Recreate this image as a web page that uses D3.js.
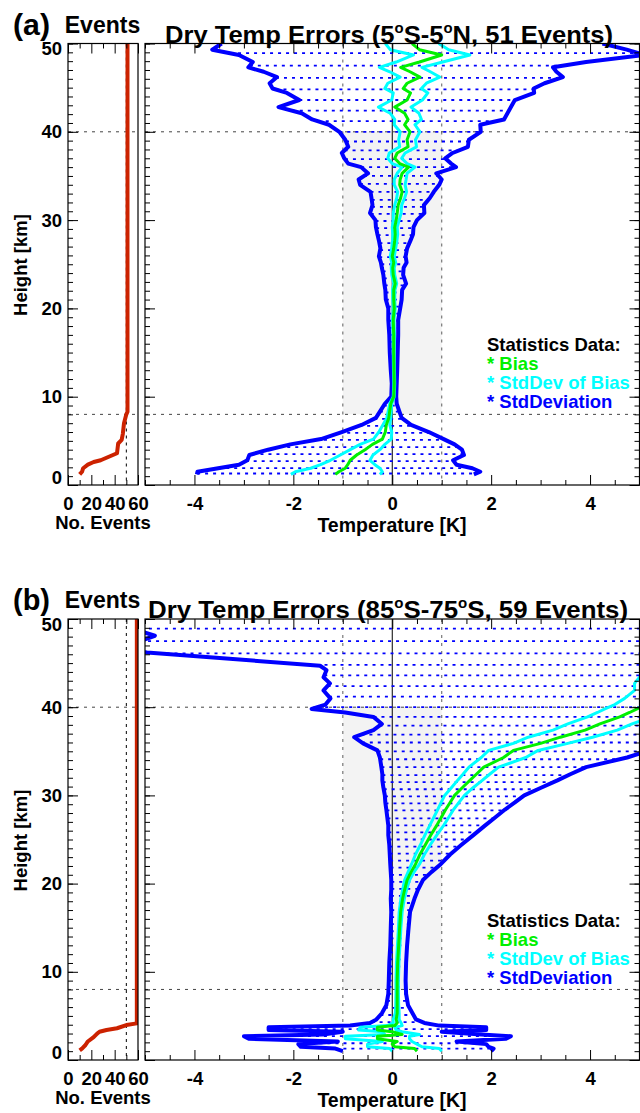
<!DOCTYPE html>
<html>
<head>
<meta charset="utf-8">
<title>Dry Temp Errors</title>
<script src="https://d3js.org/d3.v7.min.js"></script>
<style>
  body { margin: 0; background: #fff; }
  text { font-family: "Liberation Sans", Arial, Helvetica, sans-serif; font-weight: bold; }
</style>
</head>
<body>
<div id="chart"></div>
<script>
// heights [km] where the dotted std-dev fill rows are drawn
var fillRows = [48.9, 47.5, 46.1, 44.8, 43.6, 42.4, 41.2, 40.0, 38.9, 37.9, 36.9, 36.0, 35.0, 34.1,
  33.2, 32.3, 31.5, 30.7, 29.9, 29.1, 28.3, 27.4, 26.6, 25.8, 25.0, 24.2, 23.4, 22.6, 21.8, 21.0,
  20.2, 19.4, 18.6, 17.8, 17.0, 16.2, 15.4, 14.6, 13.8, 13.0, 12.2, 11.4, 10.6, 9.8, 9.0, 8.3,
  7.5, 6.7, 5.9, 5.1, 4.3, 3.5, 2.7, 1.9, 1.3];

// reference lines
var guideHeights = [40, 8];
var guideTemps = [-1, 1];
var guideEvents = 50;

// ---- (a) 5S-5N, 51 events
var aHeight = [50.0, 49.3, 48.7, 47.9, 47.3, 46.8, 46.2, 45.5, 44.9, 44.4, 43.6, 42.8, 42.1, 41.4,
  40.8, 40.0, 39.1, 38.3, 37.6, 37.0, 36.4, 36.0, 35.3, 34.6, 34.0, 33.2, 32.5, 31.7, 30.8, 30.0,
  29.2, 28.4, 27.7, 26.8, 25.9, 25.2, 24.6, 23.8, 22.8, 22.1, 21.0, 20.0, 18.7, 17.0, 15.0, 13.0,
  11.5, 10.0, 9.2, 8.4, 7.6, 6.8, 6.0, 5.2, 4.6, 4.0, 3.4, 2.8, 2.3, 1.9, 1.5, 1.2];
var aBias = [0.40, 0.55, 1.00, 0.55, 0.17, 0.36, 0.56, 0.30, 0.22, 0.37, 0.30, 0.05, 0.25, 0.32,
  0.25, 0.36, 0.30, 0.32, 0.10, 0.05, 0.15, 0.33, 0.20, 0.16, 0.15, 0.20, 0.17, 0.12, 0.10, 0.08,
  0.05, 0.06, 0.05, 0.03, 0.00, 0.03, 0.01, 0.02, 0.06, 0.03, 0.03, 0.04, 0.02, 0.03, 0.03, 0.035,
  0.04, 0.03, -0.03, -0.05, -0.07, -0.12, -0.14, -0.20, -0.40, -0.55, -0.72, -0.85, -0.90, -0.95, -1.08, -1.15];
var aSdBias = [0.54, 0.59, 0.57, 0.47, 0.43, 0.41, 0.40, 0.39, 0.37, 0.35, 0.31, 0.33, 0.29, 0.27,
  0.21, 0.20, 0.17, 0.17, 0.16, 0.14, 0.15, 0.13, 0.10, 0.12, 0.11, 0.09, 0.08, 0.07, 0.08, 0.06,
  0.05, 0.05, 0.045, 0.04, 0.04, 0.04, 0.03, 0.03, 0.03, 0.025, 0.02, 0.02, 0.015, 0.015, 0.01, 0.01,
  0.01, 0.01, 0.02, 0.03, 0.04, 0.07, 0.13, 0.18, 0.25, 0.30, 0.33, 0.40, 0.55, 0.70, 0.88, 0.90];
var aStd = [3.85, 4.19, 4.10, 3.37, 3.08, 2.96, 2.89, 2.78, 2.64, 2.50, 2.18, 2.35, 2.08, 1.94,
  1.53, 1.43, 1.25, 1.21, 1.12, 1.02, 1.04, 0.96, 0.69, 0.84, 0.80, 0.64, 0.59, 0.52, 0.55, 0.42,
  0.38, 0.36, 0.32, 0.27, 0.27, 0.26, 0.22, 0.20, 0.22, 0.17, 0.16, 0.12, 0.10, 0.09, 0.08, 0.065,
  0.05, 0.05, 0.12, 0.19, 0.26, 0.50, 0.88, 1.24, 1.66, 1.96, 2.17, 2.08, 2.20, 2.57, 2.86, 2.80];
var aEvHeight = [50, 8.3, 8.0, 7.0, 5.8, 5.1, 4.7, 3.6, 3.2, 2.8, 2.6, 2.3, 1.9, 1.5, 1.2];
var aEvCount = [51, 51, 50, 48, 47, 46, 43, 42, 35, 28, 22, 17, 13, 12, 10];

// ---- (b) 85S-75S, 59 events
var bHeight = [50.0, 49.0, 48.1, 47.5, 46.8, 46.2, 44.7, 44.2, 43.4, 42.7, 41.9, 41.0, 40.3, 39.8,
  39.4, 38.9, 38.1, 37.4, 36.6, 35.9, 35.1, 34.3, 33.2, 32.4, 31.7, 30.9, 30.0, 29.2, 28.4, 27.5,
  26.6, 25.5, 24.4, 23.3, 22.2, 21.3, 20.4, 19.3, 18.3, 16.8, 15.0, 13.0, 11.0, 9.0, 7.5, 6.2,
  5.3, 4.6, 4.2, 3.9, 3.7, 3.4, 3.2, 2.9, 2.7, 2.4, 2.1, 1.8, 1.5, 1.3, 1.0];
var bBias = [7.8, 7.6, 7.3, 7.1, 7.0, 6.8, 6.3, 6.1, 5.9, 5.7, 5.5, 5.3, 5.1, 4.95,
  4.8, 4.6, 4.2, 3.9, 3.4, 3.0, 2.45, 2.25, 1.85, 1.7, 1.57, 1.42, 1.26, 1.17, 1.08, 0.99,
  0.90, 0.78, 0.67, 0.56, 0.47, 0.38, 0.30, 0.25, 0.21, 0.17, 0.15, 0.13, 0.11, 0.10, 0.10, 0.10,
  0.10, 0.08, 0.10, 0.05, -0.30, -0.30, 0.00, 0.20, -0.30, -0.30, 0.10, 0.00, 0.05, 0.45, 0.50];
var bSdBias = [1.8, 1.7, 1.6, 1.6, 1.6, 1.5, 1.0, 0.95, 0.9, 0.8, 0.6, 0.6, 0.6, 0.65,
  0.65, 0.65, 0.65, 0.65, 0.65, 0.55, 0.5, 0.45, 0.3, 0.27, 0.25, 0.22, 0.2, 0.18, 0.16, 0.15,
  0.14, 0.12, 0.1, 0.09, 0.08, 0.06, 0.05, 0.04, 0.035, 0.03, 0.025, 0.025, 0.025, 0.025, 0.025, 0.03,
  0.04, 0.06, 0.08, 0.15, 0.35, 0.38, 0.2, 0.35, 0.65, 0.65, 0.3, 0.5, 0.55, 0.5, 0.5];
var bStd = [14.0, 12.9, 12.1, 12.2, 12.6, 11.76, 7.76, 7.43, 7.29, 6.96, 6.89, 6.55, 6.45, 6.58,
  5.75, 4.98, 4.41, 4.28, 4.17, 3.59, 2.75, 2.5, 2.07, 1.9, 1.77, 1.6, 1.41, 1.31, 1.2, 1.09,
  0.98, 0.86, 0.73, 0.61, 0.51, 0.41, 0.32, 0.27, 0.24, 0.19, 0.18, 0.17, 0.17, 0.17, 0.18, 0.22,
  0.31, 0.40, 0.55, 0.9, 2.2, 2.2, 1.0, 1.6, 2.7, 2.6, 1.2, 1.9, 1.9, 1.6, 1.5];
var bEvHeight = [50, 4.15, 3.96, 3.6, 3.4, 3.2, 3.0, 2.6, 2.1, 1.7, 1.3, 1.1];
var bEvCount = [59, 59, 50, 42, 33, 27, 25, 22, 17, 15, 12, 10];

var yMajor = [0, 10, 20, 30, 40, 50];
var yMinor = d3.range(0, 51, 1);
var tMajor = [-4, -2, 0, 2, 4];
var tMinor = d3.range(-5, 5.01, 0.5);
var eMajor = [0, 20, 40, 60];
var eMinor = [10, 30, 50];

var evX0 = 68, evX1 = 138, mX0 = 145, mX1 = 639.5;
var cBlue = '#0000ff', cCyan = '#00ffff', cGreen = '#00f000', cRed = '#cc2200';

var svg = d3.select('#chart').append('svg').attr('width', 640).attr('height', 1113);

function noDomain(s) { s.select('.domain').remove(); }

function drawPanel(p) {
  var y = d3.scaleLinear().domain([0, 50]).range([p.bottom, p.top]);
  var xe = d3.scaleLinear().domain([0, 60]).range([evX0, evX1]);
  var xt = d3.scaleLinear().domain([-5, 5]).range([mX0, mX1]);

  svg.append('clipPath').attr('id', 'clipm' + p.key).append('rect')
    .attr('x', mX0).attr('y', p.top).attr('width', mX1 - mX0).attr('height', p.bottom - p.top);
  svg.append('clipPath').attr('id', 'clipe' + p.key).append('rect')
    .attr('x', evX0).attr('y', p.top).attr('width', evX1 - evX0).attr('height', p.bottom - p.top);

  var g = svg.append('g');

  // ---------- events panel
  var ev = g.append('g').attr('clip-path', 'url(#clipe' + p.key + ')');
  ev.selectAll('.hg').data(guideHeights).enter().append('line')
    .attr('x1', evX0).attr('x2', evX1)
    .attr('y1', function(d) { return y(d); }).attr('y2', function(d) { return y(d); })
    .attr('stroke', '#444').attr('stroke-width', 1).attr('stroke-dasharray', '3,5');
  ev.append('line')
    .attr('x1', xe(guideEvents)).attr('x2', xe(guideEvents)).attr('y1', p.top).attr('y2', p.bottom)
    .attr('stroke', '#000').attr('stroke-width', 1).attr('stroke-dasharray', '3,4');
  var evData = p.evH.map(function(h, i) { return {h: h, n: p.evN[i]}; });
  ev.append('path').datum(evData)
    .attr('d', d3.line().x(function(d) { return xe(d.n); }).y(function(d) { return y(d.h); }))
    .attr('fill', 'none').attr('stroke', cRed).attr('stroke-width', 4).attr('stroke-linejoin', 'round');

  // ---------- main panel
  var m = g.append('g').attr('clip-path', 'url(#clipm' + p.key + ')');
  m.append('rect').attr('x', xt(-1)).attr('y', y(40))
    .attr('width', xt(1) - xt(-1)).attr('height', y(8) - y(40)).attr('fill', '#f3f3f3');
  m.selectAll('.vg').data(guideTemps).enter().append('line')
    .attr('x1', function(d) { return xt(d); }).attr('x2', function(d) { return xt(d); })
    .attr('y1', p.top).attr('y2', p.bottom)
    .attr('stroke', '#777').attr('stroke-width', 1.2).attr('stroke-dasharray', '3,5');
  m.selectAll('.hg').data(guideHeights).enter().append('line')
    .attr('x1', mX0).attr('x2', mX1)
    .attr('y1', function(d) { return y(d); }).attr('y2', function(d) { return y(d); })
    .attr('stroke', '#444').attr('stroke-width', 1).attr('stroke-dasharray', '3,5');
  m.append('line').attr('x1', xt(0)).attr('x2', xt(0)).attr('y1', p.top).attr('y2', p.bottom)
    .attr('stroke', '#000').attr('stroke-width', 1);

  var prof = p.heights.map(function(h, i) {
    return {h: h, b: p.bias[i], e: p.sdb[i], s: p.std[i]};
  });
  var lo = d3.scaleLinear().domain(p.heights).range(prof.map(function(d) { return d.b - d.s; }));
  var hi = d3.scaleLinear().domain(p.heights).range(prof.map(function(d) { return d.b + d.s; }));
  var hMax = d3.max(p.heights), hMin = d3.min(p.heights);
  var rows = fillRows.filter(function(r) { return r <= hMax && r >= hMin; });

  m.selectAll('.row').data(rows).enter().append('line')
    .attr('x1', function(r) { return xt(lo(r)); })
    .attr('x2', function(r) { return xt(hi(r)); })
    .attr('y1', function(r) { return y(r); }).attr('y2', function(r) { return y(r); })
    .attr('stroke', cBlue).attr('stroke-width', 1.8).attr('stroke-dasharray', '3,5');

  function series(f, color, w) {
    m.append('path').datum(prof)
      .attr('d', d3.line().x(function(d) { return xt(f(d)); }).y(function(d) { return y(d.h); }))
      .attr('fill', 'none').attr('stroke', color).attr('stroke-width', w)
      .attr('stroke-linejoin', 'round');
  }
  series(function(d) { return d.b - d.s; }, cBlue, 4);
  series(function(d) { return d.b + d.s; }, cBlue, 4);
  series(function(d) { return d.b - d.e; }, cCyan, 3);
  series(function(d) { return d.b + d.e; }, cCyan, 3);
  series(function(d) { return d.b; }, cGreen, 3);

  // ---------- frames
  [[evX0, evX1], [mX0, mX1]].forEach(function(xx) {
    g.append('rect').attr('x', xx[0]).attr('y', p.top)
      .attr('width', xx[1] - xx[0]).attr('height', p.bottom - p.top)
      .attr('fill', 'none').attr('stroke', '#000').attr('stroke-width', 1.2);
  });

  // ---------- axes
  // events: height labels on the left
  g.append('g').attr('transform', 'translate(' + evX0 + ',0)')
    .call(d3.axisLeft(y).tickValues(yMinor).tickSizeInner(-5).tickSizeOuter(0).tickFormat(''))
    .call(noDomain);
  var yl = g.append('g').attr('transform', 'translate(' + evX0 + ',0)')
    .call(d3.axisLeft(y).tickValues(yMajor).tickSizeInner(-10).tickSizeOuter(0).tickPadding(6)
      .tickFormat(function(d) { return String(d); }))
    .call(noDomain)
    .attr('font-size', 18.5);
  yl.selectAll('text').attr('y', function(d) { return d === 50 ? 5.5 : (d === 0 ? -7 : 0); });

  // main: ticks left and right
  [['left', mX0], ['right', mX1]].forEach(function(s) {
    var ax = s[0] === 'left' ? d3.axisLeft : d3.axisRight;
    g.append('g').attr('transform', 'translate(' + s[1] + ',0)')
      .call(ax(y).tickValues(yMinor).tickSizeInner(-5).tickSizeOuter(0).tickFormat(''))
      .call(noDomain);
    g.append('g').attr('transform', 'translate(' + s[1] + ',0)')
      .call(ax(y).tickValues(yMajor).tickSizeInner(-10).tickSizeOuter(0).tickFormat(''))
      .call(noDomain);
  });

  // x ticks top & bottom
  function xTicks(scale, minor, major, labelled) {
    [['bottom', p.bottom], ['top', p.top]].forEach(function(s) {
      var ax = s[0] === 'bottom' ? d3.axisBottom : d3.axisTop;
      g.append('g').attr('transform', 'translate(0,' + s[1] + ')')
        .call(ax(scale).tickValues(minor).tickSizeInner(-5).tickSizeOuter(0).tickFormat(''))
        .call(noDomain);
      g.append('g').attr('transform', 'translate(0,' + s[1] + ')')
        .call(ax(scale).tickValues(major).tickSizeInner(-10).tickSizeOuter(0).tickPadding(12)
          .tickFormat(s[0] === 'bottom' && labelled ? function(d) { return String(d); } : ''))
        .call(noDomain)
        .attr('font-size', 18.5);
    });
  }
  xTicks(xe, eMinor, eMajor, true);
  xTicks(xt, tMinor.filter(function(d) { return tMajor.indexOf(d) < 0; }), tMajor, true);

  // ---------- texts
  g.append('text').attr('x', 13).attr('y', p.top - 9)
    .attr('font-size', 29).attr('textLength', 37).attr('lengthAdjust', 'spacingAndGlyphs').text(p.tag);
  g.append('text').attr('x', (evX0 + evX1) / 2 - 0.5).attr('y', p.top - 11)
    .attr('text-anchor', 'middle').attr('font-size', 23).text('Events');

  var t = g.append('text').attr('x', p.titleX).attr('y', p.top - 11)
    .attr('text-anchor', 'middle').attr('font-size', 24)
    .attr('textLength', p.titleLen).attr('lengthAdjust', 'spacingAndGlyphs');
  p.title.forEach(function(part) {
    if (part === 'o') {
      t.append('tspan').attr('font-size', 14).attr('dy', -10).text('o');
    } else {
      t.append('tspan').attr('dy', t.selectAll('tspan').size() ? 10 : 0).text(part);
    }
  });

  g.append('text').attr('transform', 'translate(27,' + (p.top + 221.5) + ') rotate(-90)')
    .attr('text-anchor', 'middle').attr('font-size', 18.5).attr('textLength', 102)
    .text('Height [km]');
  g.append('text').attr('x', 103).attr('y', p.bottom + 44)
    .attr('text-anchor', 'middle').attr('font-size', 18.5).text('No. Events');
  g.append('text').attr('x', 392).attr('y', p.bottom + 47)
    .attr('text-anchor', 'middle').attr('font-size', 19.5).text('Temperature [K]');

  var legend = [['Statistics Data:', '#000'], ['* Bias', cGreen],
    ['* StdDev of Bias', cCyan], ['* StdDeviation', cBlue]];
  g.selectAll('.leg').data(legend).enter().append('text')
    .attr('x', 487).attr('y', function(d, i) { return p.top + 307.5 + i * 19; })
    .attr('font-size', 18.5).attr('fill', function(d) { return d[1]; })
    .text(function(d) { return d[0]; });
}

drawPanel({key: 'a', top: 43.5, bottom: 485, tag: '(a)',
  title: ['Dry Temp Errors (5', 'o', 'S-5', 'o', 'N, 51 Events)'], titleX: 389, titleLen: 448,
  heights: aHeight, bias: aBias, sdb: aSdBias, std: aStd, evH: aEvHeight, evN: aEvCount});
drawPanel({key: 'b', top: 619, bottom: 1060, tag: '(b)',
  title: ['Dry Temp Errors (85', 'o', 'S-75', 'o', 'S, 59 Events)'], titleX: 388, titleLen: 480,
  heights: bHeight, bias: bBias, sdb: bSdBias, std: bStd, evH: bEvHeight, evN: bEvCount});
</script>
</body>
</html>
